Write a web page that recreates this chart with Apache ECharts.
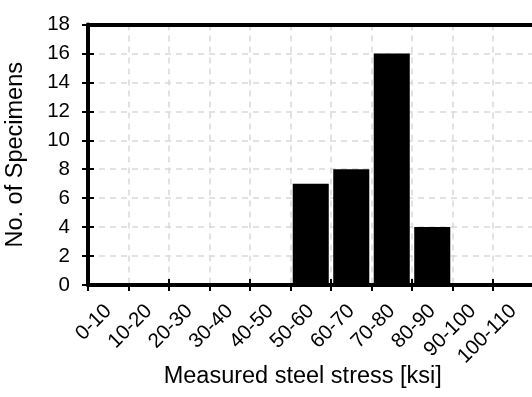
<!DOCTYPE html>
<html>
<head>
<meta charset="utf-8">
<script src="https://cdn.jsdelivr.net/npm/echarts@6/dist/echarts.min.js"></script>
<style>
  html, body { margin: 0; padding: 0; background: #fff; }
  #chart { width: 532px; height: 397px; }
</style>
</head>
<body>
<div id="chart"></div>
<script>
// Stress bins (ksi) and number of specimens in each bin
const categories = ['0-10', '10-20', '20-30', '30-40', '40-50', '50-60', '60-70', '70-80', '80-90', '90-100', '100-110'];
const specimenCounts = [0, 0, 0, 0, 0, 7, 8, 16, 4, 0, 0];
const yMin = 0, yMax = 18, yStep = 2;

const FONT = 'Liberation Sans, Arial, sans-serif';
const TICK_FONT = 20.5;
const NAME_FONT = 23.5;
const chart = echarts.init(document.getElementById('chart'), null, { renderer: 'canvas' });

const gridLine = {
  show: true, showMinLine: false, showMaxLine: false,
  lineStyle: { color: '#d9d9d9', type: [6, 5], width: 1.5 }
};
const tickStyle = { color: '#000', width: 2 };

chart.setOption({
  animation: false,
  grid: {
    left: 88, top: 24.5, width: 445.5, height: 260.5,
    containLabel: false, outerBoundsMode: 'none'
  },
  xAxis: [
    {
      type: 'category', data: categories, boundaryGap: true,
      axisLine: { show: true, lineStyle: { color: '#000', width: 4 } },
      axisTick: { show: true, inside: false, length: 6, lineStyle: tickStyle },
      axisLabel: { rotate: 45, margin: 23, color: '#000', fontFamily: FONT, fontSize: TICK_FONT },
      splitLine: gridLine,
      name: 'Measured steel stress [ksi]', nameLocation: 'middle', nameGap: 80,
      nameMoveOverlap: false,
      nameTextStyle: { color: '#000', fontFamily: FONT, fontSize: NAME_FONT, padding: [0, 16, 0, 0] }
    },
    {
      // inner half of the crossing ticks
      type: 'category', data: categories, boundaryGap: true, position: 'bottom',
      axisLine: { show: false },
      axisTick: { show: true, inside: true, length: 6, lineStyle: tickStyle },
      axisLabel: { show: false }, splitLine: { show: false }
    },
    {
      // frame line along the top of the plot
      type: 'category', data: categories, position: 'top',
      axisLine: { show: true, lineStyle: { color: '#000', width: 4 } },
      axisTick: { show: false }, axisLabel: { show: false }, splitLine: { show: false }
    }
  ],
  yAxis: [
    {
      type: 'value', min: yMin, max: yMax, interval: yStep,
      axisLine: { show: true, lineStyle: { color: '#000', width: 4 } },
      axisTick: { show: true, inside: false, length: 6, lineStyle: tickStyle },
      axisLabel: { margin: 18, color: '#000', fontFamily: FONT, fontSize: TICK_FONT },
      splitLine: gridLine,
      name: 'No. of Specimens', nameLocation: 'middle', nameGap: 60, nameRotate: 90,
      nameMoveOverlap: false,
      nameTextStyle: { color: '#000', fontFamily: FONT, fontSize: NAME_FONT }
    },
    {
      type: 'value', min: yMin, max: yMax, interval: yStep, position: 'left',
      axisLine: { show: false },
      axisTick: { show: true, inside: true, length: 6, lineStyle: tickStyle },
      axisLabel: { show: false }, splitLine: { show: false }
    }
  ],
  series: [{
    type: 'bar', data: specimenCounts, xAxisIndex: 0, yAxisIndex: 0,
    barCategoryGap: '11%',
    itemStyle: { color: '#000', borderWidth: 0 }
  }]
});
</script>
</body>
</html>
